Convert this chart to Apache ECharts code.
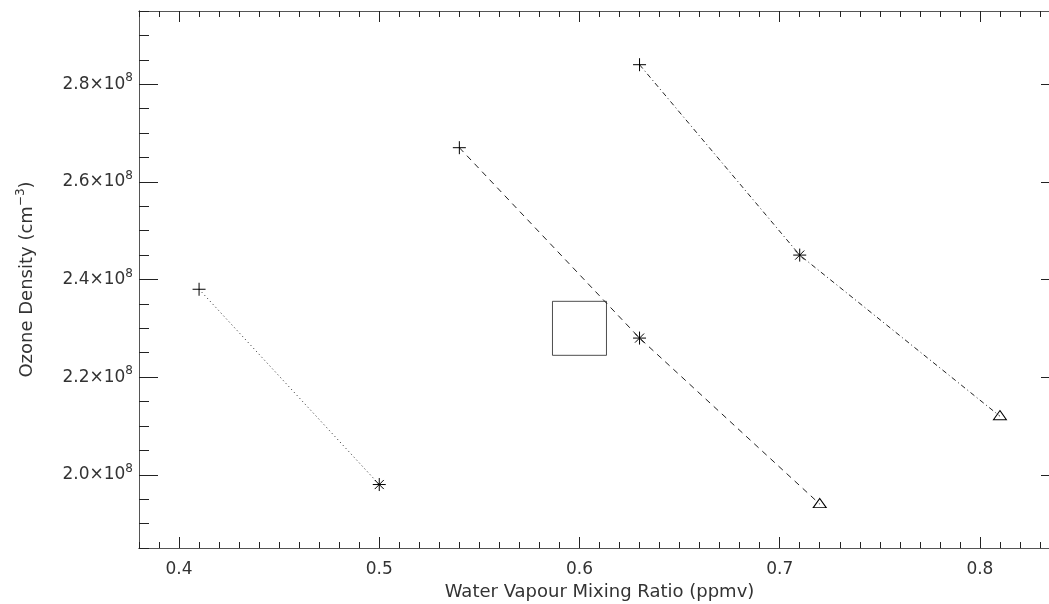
<!DOCTYPE html>
<html>
<head>
<meta charset="utf-8">
<script src="https://cdn.jsdelivr.net/npm/echarts@6/dist/echarts.min.js"></script>
<style>
  html, body { margin: 0; padding: 0; background: #fff; }
  #chart { width: 1049px; height: 604px; }
</style>
</head>
<body>
<div id="chart"></div>
<script>
// Water vapour mixing ratio (ppmv) for each profile
const waterVapourLow  = [0.41, 0.50];
const waterVapourMid  = [0.54, 0.63, 0.72];
const waterVapourHigh = [0.63, 0.71, 0.81];

// Ozone density (cm^-3) for each profile
const ozoneLow  = [2.38e8, 1.98e8];
const ozoneMid  = [2.67e8, 2.28e8, 1.94e8];
const ozoneHigh = [2.84e8, 2.45e8, 2.12e8];

// Marker per point position along a profile
const pointMarkers = ['plus', 'asterisk', 'triangle'];

// Reference box point
const boxX = [0.60];
const boxY = [2.30e8];

// Axis ranges and ticks
const xRange = [0.38, 0.84];
const yRange = [1.85e8, 2.95e8];
const xMajorTicks = [0.4, 0.5, 0.6, 0.7, 0.8];
const yMajorTicks = [2.0e8, 2.2e8, 2.4e8, 2.6e8, 2.8e8];
const xMinorStep = 0.01;
const yMinorStep = 0.05e8;

function minorTicks(range, step) {
  const out = [];
  const n = Math.round((range[1] - range[0]) / step);
  for (let i = 0; i <= n; i++) {
    out.push(+(range[0] + i * step).toPrecision(10));
  }
  return out;
}
const xMinorTicks = minorTicks(xRange, xMinorStep);
const yMinorTicks = minorTicks(yRange, yMinorStep);

const SYMBOLS = {
  plus: 'path://M0,6L12,6M6,0L6,12',
  asterisk: 'path://M0,6L12,6M6,0L6,12M1.8,1.8L10.2,10.2M10.2,1.8L1.8,10.2',
  triangle: 'path://M6,0L12,10L0,10Z'
};

const INK = '#222';
const AXIS = '#555';
const TEXT = '#333';
const FONT = 'DejaVu Sans';

function profile(xs, ys, dash) {
  return {
    type: 'line',
    xAxisIndex: 0,
    yAxisIndex: 0,
    data: xs.map((x, i) => ({
      value: [x, ys[i]],
      symbol: SYMBOLS[pointMarkers[i]],
      symbolSize: pointMarkers[i] === 'triangle' ? [13, 11] : 13,
      symbolOffset: pointMarkers[i] === 'triangle' ? [0, -1] : [0, 0]
    })),
    showSymbol: true,
    symbolKeepAspect: true,
    lineStyle: { color: INK, width: 1, type: dash },
    itemStyle: { color: 'rgba(0,0,0,0)', borderColor: '#000', borderWidth: 1 },
    emphasis: { disabled: true },
    animation: false,
    z: 3
  };
}

function xAxisDef(pos, ticks, len, labels) {
  return {
    type: 'value', position: pos, min: xRange[0], max: xRange[1],
    axisLine: { show: true, lineStyle: { color: AXIS, width: 1 } },
    axisTick: { show: true, inside: true, length: len, customValues: ticks,
                lineStyle: { color: INK, width: 1 } },
    axisLabel: labels
      ? { show: true, customValues: ticks, margin: 13, color: TEXT,
          fontFamily: FONT, fontSize: 17, formatter: v => v.toFixed(1) }
      : { show: false },
    splitLine: { show: false }
  };
}

function yAxisDef(pos, ticks, len, labels) {
  return {
    type: 'value', position: pos, min: yRange[0], max: yRange[1],
    axisLine: { show: true, lineStyle: { color: AXIS, width: 1 } },
    axisTick: { show: true, inside: true, length: len, customValues: ticks,
                lineStyle: { color: INK, width: 1 } },
    axisLabel: labels
      ? { show: true, customValues: ticks, margin: 6, color: TEXT,
          fontFamily: FONT,
          formatter: v => '{m|' + (v / 1e8).toFixed(1) + '×10}{e|8}',
          rich: {
            m: { fontFamily: FONT, fontSize: 17, color: TEXT, lineHeight: 24 },
            e: { fontFamily: FONT, fontSize: 12, color: TEXT, verticalAlign: 'top', lineHeight: 24, padding: [0, 0, 9, 0] }
          } }
      : { show: false },
    splitLine: { show: false }
  };
}

const xAxes = [
  Object.assign(xAxisDef('bottom', xMajorTicks, 11, true), {
    name: 'Water Vapour Mixing Ratio (ppmv)',
    nameLocation: 'middle',
    nameGap: 35,
    nameTextStyle: { fontFamily: FONT, fontSize: 18, color: TEXT }
  }),
  xAxisDef('bottom', xMinorTicks, 6, false),
  xAxisDef('top', xMajorTicks, 11, false),
  xAxisDef('top', xMinorTicks, 6, false)
];

const yAxes = [
  Object.assign(yAxisDef('left', yMajorTicks, 19, true), {
    name: '{n|Ozone Density (cm}{s|−3}{n|)}',
    nameLocation: 'middle',
    nameGap: 100,
    nameTextStyle: {
      fontFamily: FONT, fontSize: 18, color: TEXT,
      rich: {
        n: { fontFamily: FONT, fontSize: 18, color: TEXT, lineHeight: 24 },
        s: { fontFamily: FONT, fontSize: 12, color: TEXT, verticalAlign: 'top', lineHeight: 24, padding: [0, 0, 9, 0] }
      }
    }
  }),
  yAxisDef('left', yMinorTicks, 10, false),
  yAxisDef('right', yMajorTicks, 19, false),
  yAxisDef('right', yMinorTicks, 10, false)
];

const chart = echarts.init(document.getElementById('chart'), null, { renderer: 'canvas' });
chart.setOption({
  backgroundColor: '#fff',
  animation: false,
  grid: {
    left: 139, top: 11, width: 921, height: 537,
    containLabel: false,
    outerBoundsMode: 'none'
  },
  xAxis: xAxes,
  yAxis: yAxes,
  series: [
    profile(waterVapourLow, ozoneLow, [1, 3]),
    profile(waterVapourMid, ozoneMid, [6, 5]),
    profile(waterVapourHigh, ozoneHigh, [5, 3, 1, 3]),
    {
      type: 'scatter',
      data: boxX.map((x, i) => [x, boxY[i]]),
      symbol: 'rect',
      symbolSize: 54,
      itemStyle: { color: 'rgba(0,0,0,0)', borderColor: INK, borderWidth: 1 },
      emphasis: { disabled: true },
      z: 2
    }
  ]
});
</script>
</body>
</html>
